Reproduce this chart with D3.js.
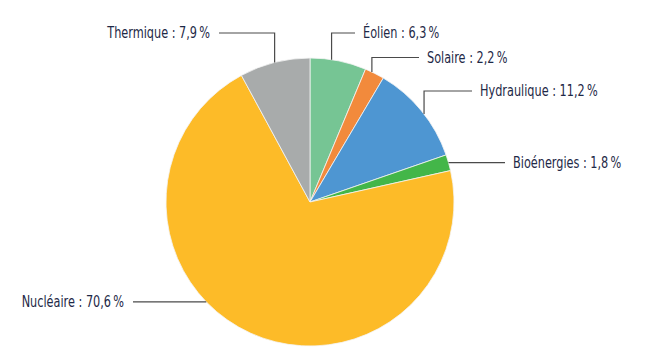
<!DOCTYPE html>
<html>
<head>
<meta charset="utf-8">
<script src="https://cdn.jsdelivr.net/npm/d3@7"></script>
<style>
  html, body { margin: 0; padding: 0; background: #ffffff; }
  svg { display: block; }
  text { font-family: "DejaVu Sans Condensed", "DejaVu Sans", sans-serif; }
</style>
</head>
<body>
<svg id="chart" width="657" height="360"></svg>
<script>
// ---- Data ----
const categories = ["Éolien", "Solaire", "Hydraulique", "Bioénergies", "Nucléaire", "Thermique"];
const values = [6.3, 2.2, 11.2, 1.8, 70.6, 7.9];
const valueLabels = ["6,3", "2,2", "11,2", "1,8", "70,6", "7,9"];
const colors = ["#76c594", "#f28a3c", "#4e96d2", "#43b649", "#fdbb28", "#a8abab"];

// ---- Label layout (annotation geometry, separate from data) ----
const labelLayout = [
  { anchorFrac: 0.38, elbowY: 33,   endX: 355, side: "right" },
  { anchorFrac: 0.35, elbowY: 57.5, endX: 419, side: "right" },
  { anchorFrac: 0.54, elbowY: 91,   endX: 472, side: "right" },
  { anchorFrac: 0.50, elbowY: null, endX: 505, side: "right" },
  { anchorFrac: 0.585, elbowY: null, endX: 133, side: "left" },
  { anchorFrac: 0.50, elbowY: 33,   endX: 219, side: "left" }
];

const width = 657, height = 360;
const cx = 310, cy = 202, radius = 144;
const textScaleX = 0.81;
const svg = d3.select("#chart");
const g = svg.append("g").attr("transform", `translate(${cx},${cy})`);

const data = categories.map((c, i) => ({ name: c, value: values[i], label: valueLabels[i], color: colors[i], layout: labelLayout[i] }));

const pie = d3.pie().sort(null).value(d => d.value);
const arc = d3.arc().innerRadius(0).outerRadius(radius);
const arcs = pie(data);

g.selectAll("path.slice")
  .data(arcs)
  .join("path")
  .attr("class", "slice")
  .attr("d", arc)
  .attr("fill", d => d.data.color)
  .attr("stroke", "#f4f4f4")
  .attr("stroke-width", 0.8);

arcs.forEach(a => {
  const L = a.data.layout;
  const ang = a.startAngle + (a.endAngle - a.startAngle) * L.anchorFrac;
  const ax = radius * Math.sin(ang);
  const ay = -radius * Math.cos(ang);
  let pts, ly;
  if (L.elbowY !== null) {
    ly = L.elbowY - cy;
    pts = [[ax, ay], [ax, ly], [L.endX - cx, ly]];
  } else {
    ly = ay;
    pts = [[ax, ay], [L.endX - cx, ly]];
  }
  g.append("path")
    .attr("d", d3.line()(pts))
    .attr("fill", "none")
    .attr("stroke", "#4a4a4a")
    .attr("stroke-width", 1.2);

  const tx = L.side === "right" ? (L.endX - cx + 8) : (L.endX - cx - 9);
  g.append("g")
    .attr("transform", `translate(${tx},${ly}) scale(${textScaleX},1)`)
    .append("text")
    .attr("x", 0)
    .attr("y", 0)
    .attr("dy", "0.35em")
    .attr("text-anchor", L.side === "right" ? "start" : "end")
    .attr("fill", "#1e2947")
    .attr("font-size", "15.5px")
    .text(`${a.data.name} : ${a.data.label}\u202f%`);
});
</script>
</body>
</html>
